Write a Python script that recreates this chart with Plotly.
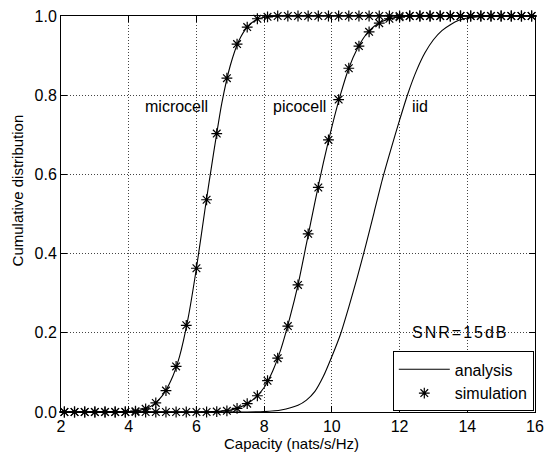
import plotly.graph_objects as go

# Simulation sample points (capacity, nats/s/Hz)
sim_x = [2.1, 2.4, 2.7, 3.0, 3.3, 3.6, 3.9, 4.2, 4.5, 4.8, 5.1, 5.4, 5.7, 6.0,
         6.3, 6.6, 6.9, 7.2, 7.5, 7.8, 8.1, 8.4, 8.7, 9.0, 9.3, 9.6, 9.9, 10.2,
         10.5, 10.8, 11.1, 11.4, 11.7, 12.0, 12.3, 12.6, 12.9, 13.2, 13.5, 13.8,
         14.1, 14.4, 14.7, 15.0, 15.3, 15.6, 15.9]

micro_sim = [0, 0, 0, 0, 0, 0, 0, 0.002, 0.008, 0.023, 0.054, 0.115, 0.219, 0.363,
             0.536, 0.703, 0.843, 0.929, 0.972, 0.993, 0.998, 1, 1, 1, 1, 1, 1, 1,
             1, 1, 1, 1, 1, 1, 1, 1, 1, 1, 1, 1,
             1, 1, 1, 1, 1, 1, 1]

pico_sim = [0, 0, 0, 0, 0, 0, 0, 0, 0, 0, 0, 0, 0, 0,
            0, 0.001, 0.003, 0.009, 0.021, 0.041, 0.079, 0.136, 0.217, 0.321, 0.45, 0.567, 0.687, 0.789,
            0.868, 0.924, 0.960, 0.982, 0.993, 0.997, 1, 1, 1, 1, 1, 1,
            1, 1, 1, 1, 1, 1, 1]

# Analytical CDF curves
micro_x = [2.0, 3.0, 3.75, 4.0, 4.25, 4.5, 4.75, 5.0, 5.25, 5.5, 5.75, 6.0, 6.25, 6.5,
           6.75, 7.0, 7.25, 7.5, 7.75, 8.0, 8.25, 8.5, 9.0, 16.0]
micro_y = [0, 0, 0.0005, 0.001, 0.003, 0.008, 0.02, 0.042, 0.08, 0.14, 0.235, 0.363, 0.51, 0.65,
           0.78, 0.875, 0.937, 0.972, 0.99, 0.997, 0.999, 1.0, 1.0, 1.0]

pico_x = [2.0, 6.0, 6.5, 7.0, 7.25, 7.5, 7.75, 8.0, 8.25, 8.5, 8.75, 9.0, 9.25, 9.5,
          9.75, 10.0, 10.25, 10.5, 10.75, 11.0, 11.25, 11.5, 11.75, 12.0, 12.5, 13.0, 16.0]
pico_y = [0, 0, 0.001, 0.005, 0.011, 0.021, 0.037, 0.062, 0.103, 0.16, 0.235, 0.321, 0.425, 0.53,
          0.63, 0.72, 0.80, 0.868, 0.917, 0.952, 0.974, 0.987, 0.994, 0.998, 1.0, 1.0, 1.0]

iid_x = [2.0, 7.5, 8.0, 8.5, 9.0, 9.25, 9.5, 9.75, 10.0, 10.25, 10.5, 10.75, 11.0, 11.25,
         11.5, 11.75, 12.0, 12.25, 12.5, 12.75, 13.0, 13.25, 13.5, 13.75, 14.0, 14.5, 15.0, 16.0]
iid_y = [0, 0, 0.001, 0.005, 0.017, 0.03, 0.052, 0.09, 0.14, 0.195, 0.265, 0.34, 0.42, 0.505,
         0.59, 0.665, 0.737, 0.805, 0.862, 0.907, 0.94, 0.963, 0.978, 0.989, 0.995, 0.999, 1.0, 1.0]

x_ticks = [2, 4, 6, 8, 10, 12, 14, 16]
y_ticks = [0.0, 0.2, 0.4, 0.6, 0.8, 1.0]

FONT = "Liberation Sans, Arial, sans-serif"
line_style = dict(color="black", width=1.1, shape="spline", smoothing=0.6)
marker_style = dict(symbol="asterisk-open", size=9, color="black",
                    line=dict(color="black", width=1.2))

fig = go.Figure()
for i, (cx, cy) in enumerate([(micro_x, micro_y), (pico_x, pico_y), (iid_x, iid_y)]):
    fig.add_trace(go.Scatter(x=cx, y=cy, mode="lines", line=line_style,
                             name="analysis", showlegend=(i == 0),
                             legendgroup="analysis", cliponaxis=False,
                             hoverinfo="skip"))
for i, sy in enumerate([micro_sim, pico_sim]):
    fig.add_trace(go.Scatter(x=sim_x, y=sy, mode="markers", marker=marker_style,
                             name="simulation", showlegend=(i == 0),
                             legendgroup="simulation", cliponaxis=False,
                             hoverinfo="skip"))

axis_common = dict(
    showline=True, linecolor="black", linewidth=1, mirror="ticks",
    ticks="inside", ticklen=6, tickwidth=1, tickcolor="black",
    showgrid=True, gridcolor="#444444", gridwidth=1, griddash="1px,2px",
    zeroline=False, tickfont=dict(family=FONT, size=16, color="black"),
)

fig.update_layout(
    width=552, height=463,
    margin=dict(l=61, r=8, t=13, b=51),
    paper_bgcolor="white", plot_bgcolor="white",
    font=dict(family=FONT, size=15, color="black"),
    xaxis=dict(range=[2, 16], tickvals=x_ticks, ticktext=[str(v) for v in x_ticks],
               **axis_common),
    yaxis=dict(range=[0, 1], tickvals=y_ticks, ticktext=[f"{v:.1f}" for v in y_ticks],
               **axis_common),
    legend=dict(x=0.70, y=0.153, xanchor="left", yanchor="top",
                bgcolor="white", bordercolor="black", borderwidth=1,
                font=dict(family=FONT, size=16, color="black"),
                itemwidth=51, tracegroupgap=0),
    showlegend=True,
)

text_font = dict(family=FONT, size=16, color="black")
labels = [("microcell", 5.41, 0.771), ("picocell", 9.05, 0.771), ("iid", 12.59, 0.771)]
for txt, lx, ly in labels:
    fig.add_annotation(x=lx, y=ly, xref="x", yref="y", text=txt, showarrow=False,
                       font=text_font, xanchor="center", yanchor="middle")

fig.add_annotation(x=13.81, y=0.2, xref="x", yref="y",
                   text='<span style="letter-spacing:2px">SNR=15dB</span>',
                   showarrow=False, font=text_font, xanchor="center", yanchor="middle")

fig.add_annotation(x=0.4855, y=-0.08, xref="paper", yref="paper",
                   text="Capacity (nats/s/Hz)", showarrow=False,
                   font=dict(family=FONT, size=15, color="black"),
                   xanchor="center", yanchor="middle")
fig.add_annotation(x=-0.0911, y=0.559, xref="paper", yref="paper",
                   text="Cumulative distribution", showarrow=False, textangle=-90,
                   font=dict(family=FONT, size=15, color="black"),
                   xanchor="center", yanchor="middle")

fig.write_html("out.html")
